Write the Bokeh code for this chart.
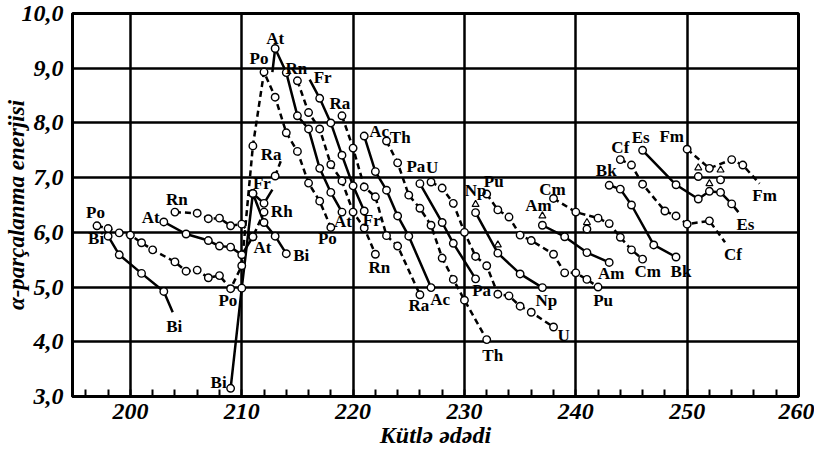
from bokeh.plotting import figure
from bokeh.models import ColumnDataSource, FixedTicker, Range1d
from bokeh.core.properties import value
from bokeh.embed import file_html
from bokeh.resources import INLINE

# ---------------- data (mass number A, alpha-decay energy E) ----------------
Po_A = [197, 198, 199, 200, 201, 202, 204, 205, 206, 207, 208, 209, 210, 211, 212, 213, 214, 215, 216, 217, 218]
Po_E = [6.12, 6.07, 5.99, 5.95, 5.81, 5.68, 5.46, 5.29, 5.31, 5.17, 5.21, 4.97, 5.39, 7.58, 8.93, 8.47, 7.82, 7.48, 6.90, 6.57, 6.09]
Bi1_A = [198, 199, 201, 203, 203.8]
Bi1_E = [5.93, 5.59, 5.25, 4.92, 4.54]
Bi_A = [209, 210, 211, 212, 213, 214]
Bi_E = [3.15, 4.98, 6.71, 6.18, 5.93, 5.61]
At1_A = [203, 205, 207, 208, 209, 210, 211]
At1_E = [6.19, 5.97, 5.85, 5.75, 5.73, 5.59, 5.92]
At_A = [212.75, 213, 214, 215, 216, 217, 218, 219]
At_E = [8.93, 9.36, 8.92, 8.13, 7.89, 7.17, 6.73, 6.37]
Rn1_A = [204, 206, 207, 208, 209, 210, 211, 212]
Rn1_E = [6.37, 6.35, 6.25, 6.26, 6.12, 6.15, 5.92, 6.37]
Rn_A = [215, 216, 217, 218, 219, 220, 221, 222]
Rn_E = [8.77, 8.19, 7.89, 7.24, 6.94, 6.37, 6.08, 5.60]
Fr1_A = [211, 212, 212.75]
Fr1_E = [6.71, 6.53, 6.78]
Fr_A = [216.1, 217, 218, 219, 220, 221]
Fr_E = [8.79, 8.45, 8.00, 7.41, 6.85, 6.39]
Ra1_A = [213, 213.5]
Ra1_E = [7.03, 7.30]
Ra_A = [219, 220, 221, 222, 223, 224, 226]
Ra_E = [8.13, 7.54, 6.83, 6.65, 5.94, 5.75, 4.86]
Ac_A = [221, 222, 223, 224, 225, 227]
Ac_E = [7.76, 7.11, 6.77, 6.30, 5.93, 4.99]
Th_A = [223, 224, 225, 226, 227, 228, 229, 230, 232]
Th_E = [7.67, 7.27, 6.68, 6.44, 6.13, 5.53, 5.14, 4.76, 4.04]
Pa_A = [226, 228, 229, 231]
Pa_E = [6.89, 6.18, 5.80, 5.15]
U_A = [227, 228, 229, 230, 231, 232, 233, 234, 235, 236, 238]
U_E = [6.92, 6.81, 6.53, 6.00, 5.56, 5.39, 4.87, 4.84, 4.65, 4.54, 4.27]
Np_A = [231, 233, 235, 237]
Np_E = [6.36, 5.62, 5.24, 4.99]
Pu_A = [232, 233, 234, 235, 236, 238, 239, 240, 241, 242]
Pu_E = [6.70, 6.41, 6.28, 5.95, 5.85, 5.60, 5.26, 5.26, 5.14, 5.00]
Am_A = [237, 239, 241, 243]
Am_E = [6.13, 5.92, 5.63, 5.45]
Cm_A = [238, 240, 242, 243, 244, 245, 246]
Cm_E = [6.62, 6.37, 6.26, 6.16, 5.91, 5.68, 5.51]
Bk_A = [243, 244, 245, 247, 249]
Bk_E = [6.86, 6.79, 6.50, 5.77, 5.55]
Cf_A = [244, 245, 246, 248, 249, 250, 252, 253.4]
Cf_E = [7.33, 7.23, 6.88, 6.39, 6.30, 6.15, 6.21, 5.82]
Es_A = [246, 249, 251, 252, 253, 254, 254.6]
Es_E = [7.50, 6.87, 6.61, 6.75, 6.73, 6.52, 6.37]
Fm_A = [250, 252, 254, 255, 256.5]
Fm_E = [7.52, 7.17, 7.33, 7.23, 6.89]

iso_A = [241, 251, 253]          # isolated circles
iso_E = [6.06, 7.02, 6.96]
tri_A = [231, 233, 237, 241, 251, 252, 253]   # triangles
tri_E = [6.51, 5.77, 6.30, 6.18, 7.18, 6.89, 7.14]

x_ticks = [200, 210, 220, 230, 240, 250, 260]
x_tick_labels = ["200", "210", "220", "230", "240", "250", "260"]
y_ticks = [3, 4, 5, 6, 7, 8, 9, 10]
y_tick_labels = ["3,0", "4,0", "5,0", "6,0", "7,0", "8,0", "9,0", "10,0"]
x_title = "Kütlə ədədi"
y_title = "α-parçalanma enerjisi"

# series table: key, A, E, dashed?, indices drawn without a marker
series = [
    ("Po", Po_A, Po_E, True, []),
    ("Bi1", Bi1_A, Bi1_E, False, [4]),
    ("Bi", Bi_A, Bi_E, False, []),
    ("At1", At1_A, At1_E, False, []),
    ("At", At_A, At_E, False, [0]),
    ("Rn1", Rn1_A, Rn1_E, True, []),
    ("Rn", Rn_A, Rn_E, True, []),
    ("Fr1", Fr1_A, Fr1_E, False, [2]),
    ("Fr", Fr_A, Fr_E, False, [0]),
    ("Ra1", Ra1_A, Ra1_E, True, [1]),
    ("Ra", Ra_A, Ra_E, True, []),
    ("Ac", Ac_A, Ac_E, False, []),
    ("Th", Th_A, Th_E, True, []),
    ("Pa", Pa_A, Pa_E, False, []),
    ("U", U_A, U_E, True, []),
    ("Np", Np_A, Np_E, False, []),
    ("Pu", Pu_A, Pu_E, True, []),
    ("Am", Am_A, Am_E, False, []),
    ("Cm", Cm_A, Cm_E, True, []),
    ("Bk", Bk_A, Bk_E, False, []),
    ("Cf", Cf_A, Cf_E, True, [7]),
    ("Es", Es_A, Es_E, False, [6]),
    ("Fm", Fm_A, Fm_E, True, [4]),
]

# element labels: text, series key, point index, pixel offsets (dx, dy down)
labels = [
    ("Po", "Po", 0, -1.5, -13), ("Bi", "Bi1", 0, -12, 2), ("Bi", "Bi1", 4, 1.5, 14),
    ("At", "At1", 0, -13, -4), ("Rn", "Rn1", 0, 2, -12.5), ("Po", "Po", 11, -2.7, 12),
    ("Bi", "Bi", 0, -12, -6), ("At", "At1", 6, 9.5, 11), ("Fr", "Fr1", 0, 9, -10),
    ("Rh", "Rn1", 7, 17.7, -1), ("Bi", "Bi", 5, 15, 2), ("Ra", "Ra1", 0, -4, -22),
    ("Po", "Po", 14, -5, -13.5), ("At", "At", 1, 0, -10), ("Rn", "Rn", 0, -1, -12),
    ("Fr", "Fr", 0, 13, -2), ("Ra", "Ra", 0, -2, -12), ("At", "At", 7, 1, 9.5),
    ("Po", "Po", 20, -3.5, 11.5), ("Fr", "Fr", 5, 7.5, 9), ("Rn", "Rn", 7, 4, 13),
    ("Ac", "Ac", 0, 15, -5), ("Th", "Th", 0, 13.7, -3), ("Pa", "Pa", 0, -4, -17.5),
    ("U", "U", 0, 1, -15), ("Ra", "Ra", 6, -1, 11), ("Ac", "Ac", 5, 9, 12),
    ("Pa", "Pa", 3, 6, 12), ("Th", "Th", 8, 6, 16), ("Np", "Np", 0, 0, -22),
    ("Pu", "Pu", 0, 7, -13), ("Np", "Np", 3, 4, 13), ("U", "U", 10, 10, 8),
    ("Am", "Am", 0, -4, -20), ("Cm", "Cm", 0, -1, -8.5), ("Pu", "Pu", 9, 5, 13),
    ("Am", "Am", 3, 2, 11.5), ("Cm", "Cm", 6, 5, 12), ("Bk", "Bk", 4, 5, 14.5),
    ("Bk", "Bk", 0, -3, -15), ("Cf", "Cf", 0, 0, -12.5), ("Es", "Es", 0, -2, -13),
    ("Fm", "Fm", 0, -15.5, -13), ("Cf", "Cf", 7, 8, 12.5), ("Es", "Es", 6, 7, 12),
    ("Fm", "Fm", 4, 5, 11.5),
]

# ---------------- figure ----------------
SERIF = "Liberation Serif"
p = figure(width=814, height=452, x_range=Range1d(194.8, 260), y_range=Range1d(3, 10),
           output_backend="svg", toolbar_location=None,
           min_border_left=69, min_border_right=16, min_border_top=13, min_border_bottom=56)
p.background_fill_color = "white"
p.border_fill_color = "white"
p.outline_line_color = "black"
p.outline_line_width = 3

p.xaxis.ticker = FixedTicker(ticks=x_ticks, minor_ticks=list(range(196, 260, 2)))
p.yaxis.ticker = FixedTicker(ticks=y_ticks, minor_ticks=[])
p.xgrid.ticker = FixedTicker(ticks=x_ticks, minor_ticks=[])
p.ygrid.ticker = FixedTicker(ticks=y_ticks, minor_ticks=[])
for g in (p.xgrid, p.ygrid):
    g.grid_line_color = "black"
    g.grid_line_width = 2.5
    g.grid_line_alpha = 1.0

p.xaxis.major_label_overrides = {t: s for t, s in zip(x_ticks, x_tick_labels)}
p.yaxis.major_label_overrides = {t: s for t, s in zip(y_ticks, y_tick_labels)}

for ax in (p.xaxis, p.yaxis):
    ax.major_tick_in = 0
    ax.major_tick_out = 0
    ax.axis_line_color = "black"
    ax.axis_line_width = 3
    ax.major_label_text_font = SERIF
    ax.major_label_text_font_style = "bold italic"
    ax.major_label_text_font_size = "24px"
    ax.major_label_text_color = "black"
    ax.axis_label_text_font = SERIF
    ax.axis_label_text_font_style = "bold italic"
    ax.axis_label_text_color = "black"
p.yaxis.minor_tick_in = 0
p.yaxis.minor_tick_out = 0
p.xaxis.minor_tick_in = 7
p.xaxis.minor_tick_out = 0
p.xaxis.minor_tick_line_width = 2
p.xaxis.minor_tick_line_color = "black"
p.xaxis.major_label_standoff = 7
p.yaxis.major_label_standoff = 9
p.xaxis.axis_label = x_title
p.yaxis.axis_label = y_title
p.xaxis.axis_label_text_font_size = "24px"
p.yaxis.axis_label_text_font_size = "23px"
p.xaxis.axis_label_text_line_height = 0.8
p.xaxis.major_label_text_line_height = 0.8
p.xaxis.axis_label_standoff = 0
p.yaxis.axis_label_standoff = -10

# lines
for key, A, E, dashed, skip in series:
    p.line(A, E, line_color="black", line_width=2.5,
           line_dash="6 4" if dashed else "solid")

# markers
mx, my = [], []
for key, A, E, dashed, skip in series:
    for i, (a, e) in enumerate(zip(A, E)):
        if i not in skip:
            mx.append(a)
            my.append(e)
mx += iso_A
my += iso_E
p.scatter(mx, my, marker="circle", size=7.5, fill_color="white",
          line_color="black", line_width=1.4)
p.scatter(tri_A, tri_E, marker="triangle", size=7, fill_color="white",
          line_color="black", line_width=1.2)

# element labels
lookup = {key: (A, E) for key, A, E, dashed, skip in series}
src = ColumnDataSource(dict(
    x=[lookup[k][0][i] for t, k, i, dx, dy in labels],
    y=[lookup[k][1][i] for t, k, i, dx, dy in labels],
    text=[t for t, k, i, dx, dy in labels],
    dx=[dx for t, k, i, dx, dy in labels],
    dy=[dy for t, k, i, dx, dy in labels],
))
p.text(x="x", y="y", text="text", x_offset="dx", y_offset="dy", source=src,
       text_align="center", text_baseline="middle",
       text_font=value(SERIF), text_font_style="bold", text_font_size="17px",
       text_color="black")

open("out.html", "w").write(file_html(p, INLINE))
